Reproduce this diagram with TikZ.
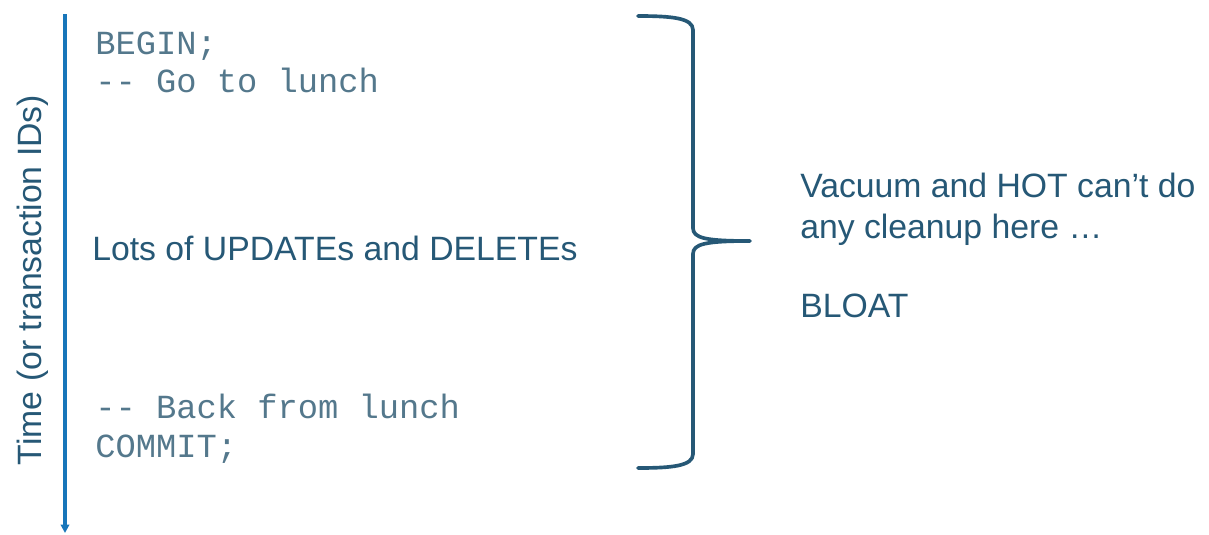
\documentclass[tikz,border=0pt]{standalone}
\usepackage{fontspec}
\setmainfont{Liberation Sans}
\newfontfamily\codefont{Liberation Mono}[Ligatures=TeXOff]
\usetikzlibrary{arrows.meta}

\definecolor{slateblue}{RGB}{38,88,118}
\definecolor{codeteal}{RGB}{84,120,140}
\definecolor{timeblue}{RGB}{24,118,186}

\begin{document}
\begin{tikzpicture}[
  x=0.025cm, y=-0.025cm,
  label/.style={inner sep=0pt, text=slateblue, font=\fontsize{24}{28.5}\selectfont},
  sql/.style={anchor=base west, inner sep=0pt, text=codeteal, font=\codefont\fontsize{24}{27}\selectfont},
  note/.style={label, anchor=base west, align=left},
  timeline/.style={-{Triangle[length=6pt,width=6pt]}, line width=2.2pt, draw=timeblue},
  brace/.style={line width=2.6pt, draw=slateblue, line cap=round, line join=round}]
  \fill[white] (0,0) rectangle (1209,534);
  \useasboundingbox (0,0) rectangle (1209,534);
  % time axis
  \coordinate (t0) at (65,14);
  \coordinate (t1) at (65,533);
  \draw[timeline] (t0) -- (t1);
  \node[label, anchor=base, rotate=90] (time) at (42,280) {Time (or transaction IDs)};
  % the long transaction
  \node[sql] (begin)  at (95,54)  {BEGIN;};
  \node[sql] (lunch)  at (95,92)  {-- Go to lunch};
  \node[note] (dml)   at (92,260) {Lots of UPDATEs and DELETEs};
  \node[sql] (back)   at (95,418) {-- Back from lunch};
  \node[sql] (commit) at (95,457) {COMMIT;};
  % brace over the whole transaction
  \draw[brace] (638,16) .. controls (672,16) and (693,18) .. (693,30)
    -- (693,228) .. controls (693,238) and (705,241) .. (750,241)
    .. controls (705,241) and (693,244) .. (693,254)
    -- (693,454) .. controls (693,466) and (672,468) .. (638,468);
  % base anchor of a two-line node sits on its last line
  \node[note] (vacuum) at (800,238) {Vacuum and HOT can’t do\\any cleanup here …};
  \node[note] (bloat)  at (800,317) {BLOAT};
\end{tikzpicture}
\end{document}
